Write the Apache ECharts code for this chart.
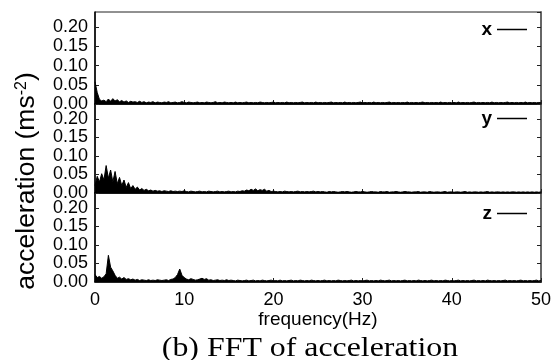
<!DOCTYPE html>
<html>
<head>
<meta charset="utf-8">
<script src="https://cdn.jsdelivr.net/npm/echarts@6/dist/echarts.min.js"></script>
<style>html,body{margin:0;padding:0;background:#fff;}#c{width:557px;height:360px;}</style>
</head>
<body>
<div id="c"></div>
<script>
const freqs = [0,0.25,0.5,0.75,1,1.25,1.5,1.75,2,2.25,2.5,2.75,3,3.25,3.5,3.75,4,4.25,4.5,4.75,5,5.25,5.5,5.75,6,6.25,6.5,6.75,7,7.25,7.5,7.75,8,8.25,8.5,8.75,9,9.25,9.5,9.75,10,10.25,10.5,10.75,11,11.25,11.5,11.75,12,12.25,12.5,12.75,13,13.25,13.5,13.75,14,14.25,14.5,14.75,15,15.25,15.5,15.75,16,16.25,16.5,16.75,17,17.25,17.5,17.75,18,18.25,18.5,18.75,19,19.25,19.5,19.75,20,20.25,20.5,20.75,21,21.25,21.5,21.75,22,22.25,22.5,22.75,23,23.25,23.5,23.75,24,24.25,24.5,24.75,25,25.25,25.5,25.75,26,26.25,26.5,26.75,27,27.25,27.5,27.75,28,28.25,28.5,28.75,29,29.25,29.5,29.75,30,30.25,30.5,30.75,31,31.25,31.5,31.75,32,32.25,32.5,32.75,33,33.25,33.5,33.75,34,34.25,34.5,34.75,35,35.25,35.5,35.75,36,36.25,36.5,36.75,37,37.25,37.5,37.75,38,38.25,38.5,38.75,39,39.25,39.5,39.75,40,40.25,40.5,40.75,41,41.25,41.5,41.75,42,42.25,42.5,42.75,43,43.25,43.5,43.75,44,44.25,44.5,44.75,45,45.25,45.5,45.75,46,46.25,46.5,46.75,47,47.25,47.5,47.75,48,48.25,48.5,48.75,49,49.25,49.5,49.75,50];

const accX = [0.058,0.030,0.012,0.008,0.010,0.006,0.013,0.007,0.014,0.008,0.011,0.006,0.009,0.005,0.008,0.004,0.007,0.005,0.006,0.004,0.007,
0.004,0.006,0.003,0.005,0.004,0.006,0.003,0.005,0.004,0.003,0.005,0.004,0.006,0.003,0.004,0.005,0.003,0.004,0.006,0.004,
0.003,0.005,0.004,0.003,0.004,0.005,0.003,0.004,0.003,0.005,0.004,0.003,0.004,0.006,0.003,0.004,0.003,0.005,0.004,0.003,
0.004,0.003,0.005,0.003,0.004,0.003,0.004,0.005,0.003,0.004,0.003,0.004,0.003,0.005,0.004,0.003,0.004,0.003,0.004,0.005,
0.003,0.004,0.003,0.004,0.003,0.005,0.003,0.004,0.003,0.004,0.003,0.004,0.005,0.003,0.004,0.003,0.004,0.003,0.005,0.003,
0.004,0.003,0.004,0.003,0.004,0.005,0.003,0.004,0.003,0.004,0.003,0.005,0.003,0.004,0.003,0.004,0.003,0.004,0.005,0.003,
0.004,0.003,0.004,0.003,0.005,0.003,0.004,0.003,0.004,0.003,0.004,0.005,0.003,0.004,0.003,0.004,0.003,0.004,0.003,0.005,
0.003,0.004,0.003,0.004,0.003,0.004,0.005,0.003,0.004,0.003,0.004,0.003,0.004,0.003,0.005,0.003,0.004,0.003,0.004,0.003,
0.004,0.003,0.005,0.003,0.004,0.003,0.004,0.003,0.004,0.005,0.003,0.004,0.003,0.004,0.003,0.004,0.003,0.005,0.003,0.004,
0.003,0.004,0.003,0.004,0.005,0.003,0.004,0.003,0.004,0.003,0.004,0.003,0.005,0.003,0.004,0.003,0.004,0.003,0.004,0.003];

const accY = [0.020,0.045,0.030,0.052,0.035,0.074,0.040,0.062,0.030,0.058,0.025,0.042,0.020,0.035,0.015,0.028,0.012,0.020,0.010,0.016,0.008,0.012,0.007,0.010,0.006,
0.008,0.005,0.007,0.005,0.006,0.004,0.006,0.005,0.004,0.006,0.004,0.005,0.004,0.005,0.004,0.006,
0.004,0.003,0.005,0.004,0.003,0.004,0.005,0.003,0.004,0.003,0.005,0.004,0.003,0.004,0.005,0.003,0.004,0.003,0.004,0.005,
0.003,0.004,0.003,0.005,0.004,0.006,0.005,0.008,0.006,0.010,0.007,0.011,0.006,0.009,0.007,0.010,0.005,0.007,0.004,0.005,
0.004,0.003,0.004,0.003,0.005,0.004,0.003,0.004,0.003,0.004,0.005,0.003,0.004,0.003,0.004,0.003,0.004,0.005,0.003,0.004,
0.003,0.004,0.003,0.002,0.004,0.003,0.004,0.003,0.002,0.003,0.004,0.003,0.004,0.003,0.002,0.003,0.004,0.003,0.003,0.004,
0.003,0.002,0.003,0.004,0.003,0.003,0.002,0.004,0.003,0.003,0.004,0.002,0.003,0.003,0.004,0.003,0.002,0.003,0.004,0.003,
0.003,0.002,0.003,0.003,0.004,0.002,0.003,0.003,0.002,0.004,0.003,0.002,0.003,0.003,0.002,0.003,0.004,0.002,0.003,0.003,
0.002,0.003,0.003,0.002,0.003,0.004,0.002,0.003,0.002,0.003,0.003,0.002,0.003,0.002,0.003,0.004,0.002,0.003,0.002,0.003,
0.003,0.002,0.003,0.002,0.003,0.002,0.003,0.003,0.002,0.003,0.002,0.003,0.002,0.003,0.002,0.003,0.002,0.003,0.002,0.003];

const accZ = [0.020,0.012,0.015,0.010,0.014,0.022,0.072,0.040,0.030,0.018,0.010,0.013,0.008,0.012,0.007,0.009,0.006,
0.008,0.005,0.007,0.004,0.006,0.005,0.004,0.006,0.004,0.005,0.004,0.006,0.005,0.004,0.005,0.006,0.004,0.007,0.008,
0.012,0.020,0.035,0.018,0.012,0.008,0.006,0.009,0.007,0.005,
0.006,0.008,0.010,0.007,0.009,0.005,0.006,0.004,0.005,0.006,0.004,0.005,0.004,0.006,0.004,
0.005,0.004,0.003,0.005,0.004,0.003,0.004,0.005,0.003,0.004,0.005,0.003,0.004,0.003,0.005,0.004,0.003,0.004,0.005,0.003,
0.004,0.003,0.005,0.003,0.004,0.003,0.004,0.005,0.003,0.004,0.003,0.005,0.004,0.003,0.004,0.003,0.005,0.004,0.003,0.004,
0.003,0.004,0.005,0.003,0.004,0.003,0.004,0.003,0.005,0.004,0.003,0.004,0.003,0.004,0.005,0.003,0.004,0.003,0.004,0.003,
0.004,0.005,0.003,0.004,0.003,0.004,0.003,0.005,0.004,0.003,0.004,0.005,0.003,0.004,0.003,0.004,0.003,0.004,0.005,0.003,
0.004,0.003,0.004,0.003,0.005,0.004,0.003,0.004,0.003,0.004,0.005,0.003,0.004,0.003,0.004,0.003,0.005,0.004,0.003,0.004,
0.003,0.004,0.005,0.003,0.004,0.003,0.004,0.003,0.004,0.005,0.003,0.004,0.003,0.004,0.003,0.005,0.004,0.003,0.004,0.003,
0.004,0.003,0.004,0.005,0.003,0.004,0.003,0.004,0.003,0.004,0.005,0.003,0.004,0.003,0.004,0.003,0.004,0.005,0.003,0.004];

const seriesNames = ['x', 'y', 'z'];
const yTicks = [0, 0.05, 0.10, 0.15, 0.20];
const xTicks = [0, 10, 20, 30, 40, 50];
const xLabel = 'frequency(Hz)';
const yLabel = 'acceleration (ms';
const caption = '(b) FFT of acceleration';

const chart = echarts.init(document.getElementById('c'), null, {renderer: 'canvas'});
const FONT = 'Liberation Sans, Arial, sans-serif';
const grids = [
  {left: 95, right: 16, top: 12, height: 92},
  {left: 95, right: 16, top: 104, height: 89},
  {left: 95, right: 16, top: 193, height: 89}
];
const allData = [accX, accY, accZ];
const legendTops = [20, 109, 204];

const xAxes = [], yAxes = [], series = [], legends = [];
grids.forEach((g, i) => {
  g.show = true; g.borderColor = '#222'; g.borderWidth = 1; g.backgroundColor = 'transparent';
  const last = i === 2;
  xAxes.push({
    type: 'value', gridIndex: i, min: 0, max: 50, interval: 10,
    axisLine: {show: true, lineStyle: {color: '#000', width: 1.5}},
    axisTick: {show: true, inside: true, length: 4, lineStyle: {color: '#222'}},
    axisLabel: {show: last, fontFamily: FONT, fontSize: 18, color: '#000', margin: 9},
    splitLine: {show: false},
    name: last ? xLabel : '', nameLocation: 'middle', nameGap: 28,
    nameTextStyle: {fontFamily: FONT, fontSize: 19, color: '#000'}
  });
  yAxes.push({
    type: 'value', gridIndex: i, min: 0, max: 0.24, interval: 0.05, position: 'left',
    axisLine: {show: true, lineStyle: {color: '#000', width: 1.5}},
    axisTick: {show: true, inside: true, length: 4, lineStyle: {color: '#222'}},
    axisLabel: {fontFamily: FONT, fontSize: 18, color: '#000', margin: 7, showMaxLabel: false,
      formatter: v => (yTicks.indexOf(Math.round(v * 100) / 100) >= 0 ? v.toFixed(2) : '')},
    splitLine: {show: false}
  });
  yAxes.push({
    type: 'value', gridIndex: i, min: 0, max: 0.24, interval: 0.05, position: 'right',
    axisLine: {show: true, lineStyle: {color: '#666', width: 2}},
    axisTick: {show: true, inside: true, length: 4, lineStyle: {color: '#222'}},
    axisLabel: {show: false}, splitLine: {show: false}
  });
  series.push({
    name: seriesNames[i], type: 'line', xAxisIndex: i, yAxisIndex: i * 2,
    data: freqs.map((f, k) => [f, allData[i][k]]),
    symbol: 'none', lineStyle: {color: '#000', width: 1}, itemStyle: {color: '#000'},
    areaStyle: {color: '#000', opacity: 1},
    animation: false
  });
  legends.push({
    data: [{name: seriesNames[i], icon: 'rect'}], top: legendTops[i], right: 30, align: 'right', padding: 0,
    itemWidth: 30, itemHeight: 1.5, itemGap: 5, itemStyle: {color: '#000', borderWidth: 0},
    textStyle: {fontFamily: FONT, fontSize: 19, fontWeight: 'bold', color: '#000'}
  });
});

chart.setOption({
  animation: false,
  backgroundColor: '#fff',
  grid: grids,
  xAxis: xAxes,
  yAxis: yAxes,
  legend: legends,
  series: series,
  graphic: [
    {
      type: 'text', x: 27, y: 181, rotation: Math.PI / 2,
      style: {
        text: yLabel + '{sup|-2}' + ')',
        fontFamily: FONT, fontSize: 26.5, fill: '#000', align: 'center', verticalAlign: 'middle',
        rich: {sup: {fontFamily: FONT, fontSize: 16, fill: '#000', verticalAlign: 'top', lineHeight: 14, padding: [0, 0, 10, 0]}}
      }
    },
    {
      type: 'text', x: 310, y: 349, scaleX: 1.18,
      style: {
        text: caption, fontFamily: 'Liberation Serif, Times New Roman, serif', fontSize: 27,
        fill: '#000', align: 'center', verticalAlign: 'middle'
      }
    }
  ]
});
</script>
</body>
</html>
